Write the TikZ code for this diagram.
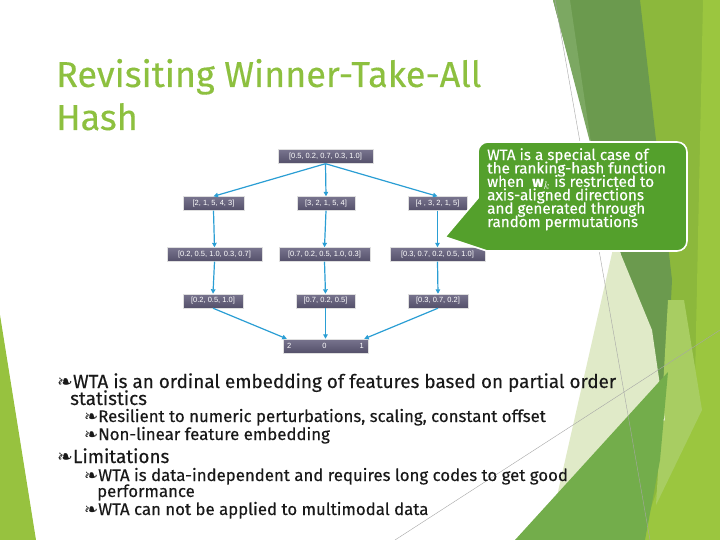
\documentclass[tikz,border=0pt]{standalone}
\usepackage{fontspec}
\setmainfont{Fira Sans}[FakeBold=0.3]
\newfontfamily\symfont{DejaVu Sans}
\newfontfamily\boxfont{Liberation Sans}
\usetikzlibrary{arrows.meta}
\definecolor{titlegreen}{RGB}{141,192,63}
\definecolor{bandgreen}{RGB}{107,154,78}
\definecolor{bandlight}{RGB}{124,168,98}
\definecolor{olive}{RGB}{140,184,60}
\definecolor{brightg}{RGB}{155,198,63}
\definecolor{paleg}{RGB}{224,234,200}
\definecolor{lowg}{RGB}{115,173,75}
\definecolor{limeg}{RGB}{168,205,98}
\definecolor{leftg}{RGB}{151,194,63}
\definecolor{calloutg}{RGB}{84,160,44}
\definecolor{boxtop}{RGB}{120,116,142}
\definecolor{boxbot}{RGB}{84,80,106}
\definecolor{arrblue}{RGB}{42,158,212}
\newcommand{\mybul}{{\symfont\char"2767}}
\newcommand{\mytight}{\lineskiplimit=-20pt\relax\lineskip=0pt\relax}
\begin{document}
\begin{tikzpicture}[x=1pt,y=-1pt,
  vbox/.style={draw=white!75!gray, line width=0.4pt, top color=boxtop, bottom color=boxbot,
    text=white, font=\boxfont\fontsize{7.5}{8}\selectfont, inner xsep=2pt, inner ysep=0pt,
    minimum height=14pt},
  arr/.style={draw=arrblue, line width=1.2pt, -{Triangle[length=4.5pt,width=4.5pt]}},
  lone/.style={anchor=base west, inner sep=0pt, text=black!90, font=\fontsize{18.9}{20}\selectfont},
  ltwo/.style={anchor=base west, inner sep=0pt, text=black!90, font=\fontsize{16.8}{17}\selectfont},
  thinline/.style={draw=black!35, line width=0.4pt}]
\useasboundingbox (0,0) rectangle (720,540);
\fill[white] (0,0) rectangle (720,540);
% background facets
\fill[leftg] (0,315) -- (36,540) -- (0,540) -- cycle;
\fill[olive] (637,0) -- (720,0) -- (720,540) -- (630,540) -- cycle;
\fill[brightg] (703,0) -- (720,0) -- (720,540) -- (640,540) -- (695,380) -- cycle;
\fill[bandgreen] (553,0) -- (640,0) -- (672,280) -- (665,420) -- cycle;
\fill[bandlight] (553,0) -- (570,0) -- (592,150) -- cycle;
\fill[limeg] (668,300) -- (684,300) -- (702,410) -- (656,505) -- (660,440) -- cycle;
\fill[paleg] (615,240) -- (652,330) -- (665,420) -- (600,470) -- (555,505) -- cycle;
\fill[lowg] (515,540) -- (668,372) -- (660,460) -- (645,540) -- cycle;
\draw[thinline] (555,0) -- (650,540);
\draw[thinline] (395,540) -- (720,330);
% title
\node[anchor=base west, inner sep=0pt, text=titlegreen, font=\fontsize{36}{40}\selectfont] (title1) at (56,87) {Revisiting Winner-Take-All};
\node[anchor=base west, inner sep=0pt, text=titlegreen, font=\fontsize{36}{40}\selectfont] (title2) at (56,130) {Hash};
% diagram
\node[vbox, minimum width=95pt] (n0) at (325.5,156.5) {[0.5, 0.2, 0.7, 0.3, 1.0]};
\node[vbox, minimum width=61pt] (n1a) at (213.5,203.5) {[2, 1, 5, 4, 3]};
\node[vbox, minimum width=58pt] (n1b) at (326,203.5) {[3, 2, 1, 5, 4]};
\node[vbox, minimum width=59pt] (n1c) at (437.5,203.5) {[4 , 3, 2, 1, 5]};
\node[vbox, minimum width=95pt] (n2a) at (214.5,254.5) {[0.2, 0.5, 1.0, 0.3, 0.7]};
\node[vbox, minimum width=91pt] (n2b) at (324.5,254.5) {[0.7, 0.2, 0.5, 1.0, 0.3]};
\node[vbox, minimum width=95pt] (n2c) at (437.5,254.5) {[0.3, 0.7, 0.2, 0.5, 1.0]};
\node[vbox, minimum width=60pt] (n3a) at (213,301) {[0.2, 0.5, 1.0]};
\node[vbox, minimum width=59pt] (n3b) at (325.5,301) {[0.7, 0.2, 0.5]};
\node[vbox, minimum width=60pt] (n3c) at (438,301) {[0.3, 0.7, 0.2]};
\node[vbox, minimum width=85pt] (bot) at (325.5,346) {2\hspace{31pt}0\hspace{33pt}1};
\draw[arr] (n0.south) -- (n1a.north);
\draw[arr] (n0.south) -- (n1b.north);
\draw[arr] (n0.south) -- (n1c.north);
\draw[arr] (n1a.south) -- (n2a.north);
\draw[arr] (n1b.south) -- (n2b.north);
\draw[arr] (n1c.south) -- (n2c.north);
\draw[arr] (n2a.south) -- (n3a.north);
\draw[arr] (n2b.south) -- (n3b.north);
\draw[arr] (n2c.south) -- (n3c.north);
\draw[arr] (n3a.south) -- ([xshift=4pt]bot.north west);
\draw[arr] (n3b.south) -- (bot.north);
\draw[arr] (n3c.south) -- ([xshift=-4pt]bot.north east);
% callout
\draw[draw=white, line width=1.6pt, fill=calloutg] (445,237) -- (487,251) [rounded corners=10pt] -- (687,251) -- (687,142) -- (478,142) [sharp corners] -- (478,198) -- cycle;
\node[anchor=north west, inner sep=0pt, align=left, text=white, font=\fontsize{15.2}{13.4}\selectfont\mytight] (ctext) at (487,148)
 {WTA is a special case of\\the ranking-hash function\\when \ $\mathbf{w}_k$ is restricted to\\axis-aligned directions\\and generated through\\random permutations};
% body text
\node[lone] (t1) at (57,388) {\mybul WTA is an ordinal embedding of features based on partial order};
\node[lone] (t1b) at (70,405) {statistics};
\node[ltwo] (t2) at (84,422) {\mybul Resilient to numeric perturbations, scaling, constant offset};
\node[ltwo] (t3) at (84,440) {\mybul Non-linear feature embedding};
\node[lone] (t4) at (57,463) {\mybul Limitations};
\node[ltwo] (t5) at (84,481) {\mybul WTA is data-independent and requires long codes to get good};
\node[ltwo] (t5b) at (97,497) {performance};
\node[ltwo] (t6) at (84,515) {\mybul WTA can not be applied to multimodal data};
\end{tikzpicture}
\end{document}
